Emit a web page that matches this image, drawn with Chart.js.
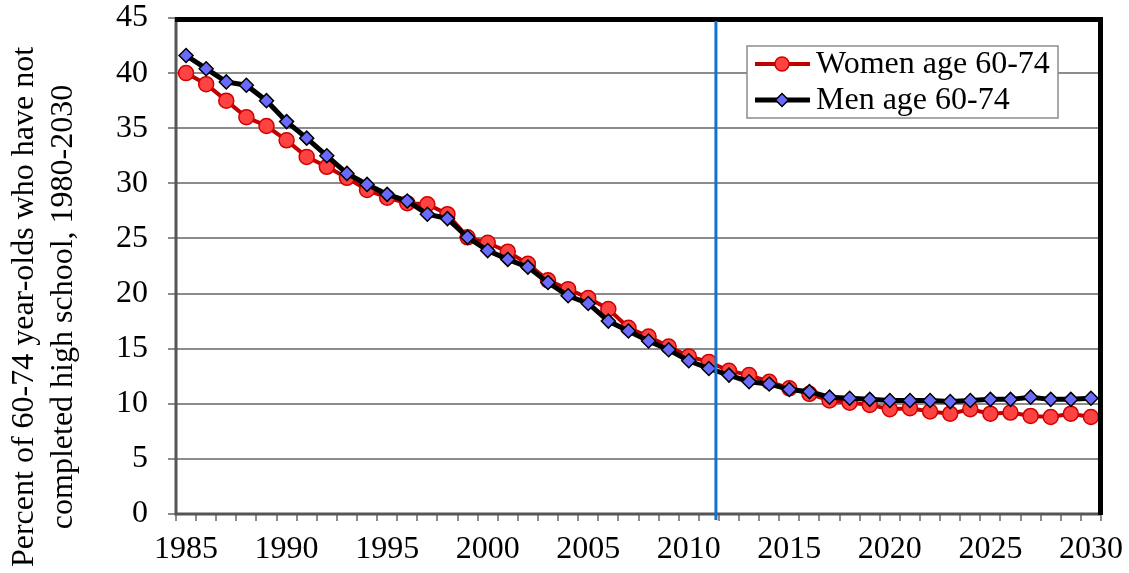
<!DOCTYPE html>
<html>
<head>
<meta charset="utf-8">
<script src="https://cdn.jsdelivr.net/npm/chart.js@4.4.0/dist/chart.umd.min.js"></script>
<style>
  html, body { margin: 0; padding: 0; background: #fff; }
  #wrap { width: 1129px; height: 573px; }
</style>
</head>
<body>
<div id="wrap"><canvas id="myChart"></canvas></div>
<script>
// dados
var years = ['1985','1986','1987','1988','1989','1990','1991','1992','1993','1994',
  '1995','1996','1997','1998','1999','2000','2001','2002','2003','2004',
  '2005','2006','2007','2008','2009','2010','2011','2012','2013','2014',
  '2015','2016','2017','2018','2019','2020','2021','2022','2023','2024',
  '2025','2026','2027','2028','2029','2030'];

var women = [40.0, 39.0, 37.5, 36.0, 35.2, 33.9, 32.4, 31.5, 30.5, 29.4,
  28.7, 28.2, 28.1, 27.2, 25.1, 24.6, 23.8, 22.7, 21.2, 20.4,
  19.6, 18.6, 16.9, 16.1, 15.2, 14.3, 13.8, 13.0, 12.6, 12.0,
  11.4, 10.9, 10.3, 10.1, 9.9, 9.5, 9.6, 9.3, 9.1, 9.5,
  9.1, 9.2, 8.9, 8.8, 9.1, 8.8];

var men = [41.6, 40.4, 39.2, 38.9, 37.5, 35.6, 34.1, 32.5, 30.9, 29.9,
  29.0, 28.4, 27.2, 26.8, 25.1, 23.9, 23.1, 22.4, 21.0, 19.8,
  19.1, 17.5, 16.6, 15.7, 14.9, 13.9, 13.2, 12.6, 12.0, 11.8,
  11.3, 11.1, 10.6, 10.5, 10.4, 10.3, 10.3, 10.3, 10.2, 10.3,
  10.4, 10.4, 10.6, 10.4, 10.4, 10.5];

var seriesNames = ['Women age 60-74', 'Men age 60-74'];
var yTitle = ['Percent of 60-74 year-olds who have not', 'completed high school, 1980-2030'];
var dividerYear = 2011.35; // linha azul vertical

var serif = "'Liberation Serif', 'Times New Roman', serif";

// borda da área do gráfico (estilo Excel)
var plotBorder = {
  id: 'plotBorder',
  afterDatasetsDraw: function(chart) {
    var a = chart.chartArea, c = chart.ctx;
    c.save();
    c.strokeStyle = '#555';
    c.lineWidth = 3;
    c.beginPath();
    c.moveTo(a.left, a.top);
    c.lineTo(a.left, a.bottom);
    c.lineTo(a.right, a.bottom);
    c.stroke();
    c.strokeStyle = '#000';
    c.lineWidth = 5;
    c.beginPath();
    c.moveTo(a.left - 1, a.top + 1.5);
    c.lineTo(a.right - 0.5, a.top + 1.5);
    c.lineTo(a.right - 0.5, a.bottom + 1);
    c.stroke();
    c.restore();
  }
};

// linha vertical azul
var dividerLine = {
  id: 'dividerLine',
  afterDatasetsDraw: function(chart) {
    var x = chart.scales.x.getPixelForValue(dividerYear - Number(years[0]));
    var a = chart.chartArea, c = chart.ctx;
    c.save();
    c.strokeStyle = '#1572D3';
    c.lineWidth = 3;
    c.beginPath();
    c.moveTo(x, a.top + 3);
    c.lineTo(x, a.bottom + 6);
    c.stroke();
    c.restore();
  }
};

// título do eixo y (duas linhas, girado)
var yAxisTitle = {
  id: 'yAxisTitle',
  afterDraw: function(chart) {
    var c = chart.ctx;
    c.save();
    c.translate(0, 307);
    c.rotate(-Math.PI / 2);
    c.fillStyle = '#000';
    c.font = '32px ' + serif;
    c.textAlign = 'center';
    c.textBaseline = 'alphabetic';
    c.fillText(yTitle[0], 0, 33);
    c.fillText(yTitle[1], 0, 72);
    c.restore();
  }
};

// legenda dentro da área do gráfico
var boxLegend = {
  id: 'boxLegend',
  afterDraw: function(chart) {
    var c = chart.ctx;
    var bx = 747, by = 46, bw = 311, bh = 72;
    c.save();
    c.fillStyle = '#fff';
    c.fillRect(bx, by, bw, bh);
    c.strokeStyle = '#8c8c8c';
    c.lineWidth = 1.5;
    c.strokeRect(bx, by, bw, bh);
    var rows = [by + 18, by + 54];
    chart.data.datasets.forEach(function(ds, i) {
      var y = rows[i];
      c.strokeStyle = ds.borderColor;
      c.lineWidth = ds.borderWidth;
      c.beginPath();
      c.moveTo(755, y);
      c.lineTo(810, y);
      c.stroke();
      c.fillStyle = ds.pointBackgroundColor;
      c.strokeStyle = ds.pointBorderColor;
      c.lineWidth = 1.5;
      c.beginPath();
      if (ds.pointStyle === 'circle') {
        c.arc(782, y, 7, 0, Math.PI * 2);
      } else {
        c.moveTo(782, y - 6.5); c.lineTo(788.5, y); c.lineTo(782, y + 6.5); c.lineTo(775.5, y); c.closePath();
      }
      c.fill();
      c.stroke();
      c.fillStyle = '#000';
      c.font = '32px ' + serif;
      c.textBaseline = 'middle';
      c.textAlign = 'left';
      c.fillText(ds.label, 816, y + 1);
    });
    c.restore();
  }
};

var ctx = document.getElementById('myChart').getContext('2d');

var myChart = new Chart(ctx, {
  type: 'line',
  data: {
    labels: years,
    datasets: [{
      label: seriesNames[0],
      data: women,
      order: 2,
      borderColor: '#C00000',
      borderWidth: 4,
      pointStyle: 'circle',
      pointRadius: 7.5,
      pointBackgroundColor: '#FF4343',
      pointBorderColor: '#D00000',
      pointBorderWidth: 1.5,
      tension: 0
    }, {
      label: seriesNames[1],
      data: men,
      order: 1,
      borderColor: '#000000',
      borderWidth: 5,
      pointStyle: 'rectRot',
      pointRadius: 7,
      pointBackgroundColor: '#6A6AFF',
      pointBorderColor: '#000000',
      pointBorderWidth: 1.5,
      tension: 0
    }]
  },
  options: {
    responsive: true,
    maintainAspectRatio: false,
    animation: false,
    layout: {
      padding: { top: 18, right: 28, left: 0, bottom: 0 }
    },
    plugins: {
      legend: { display: false },
      tooltip: { enabled: false }
    },
    scales: {
      x: {
        type: 'category',
        offset: true,
        afterFit: function(scale) {
          scale.height = 59;
          scale.paddingLeft = 0;
          scale.paddingRight = 0;
        },
        border: { display: false },
        grid: {
          offset: true,
          drawOnChartArea: false,
          drawTicks: true,
          tickLength: 7,
          tickColor: '#8c8c8c',
          lineWidth: 2
        },
        ticks: {
          autoSkip: false,
          maxRotation: 0,
          padding: 9,
          color: '#000',
          font: { family: serif, size: 32 },
          callback: function(val, idx) {
            var y = years[idx];
            return Number(y) % 5 === 0 ? y : '';
          }
        }
      },
      y: {
        min: 0,
        max: 45,
        afterFit: function(scale) {
          scale.width = 176;
          scale.paddingTop = 0;
          scale.paddingBottom = 0;
        },
        border: { display: false },
        grid: {
          color: '#8c8c8c',
          lineWidth: 2,
          drawTicks: true,
          tickLength: 8,
          tickColor: '#8c8c8c'
        },
        ticks: {
          stepSize: 5,
          padding: 20,
          color: '#000',
          font: { family: serif, size: 32 }
        }
      }
    }
  },
  plugins: [plotBorder, dividerLine, boxLegend, yAxisTitle]
});
</script>
</body>
</html>
